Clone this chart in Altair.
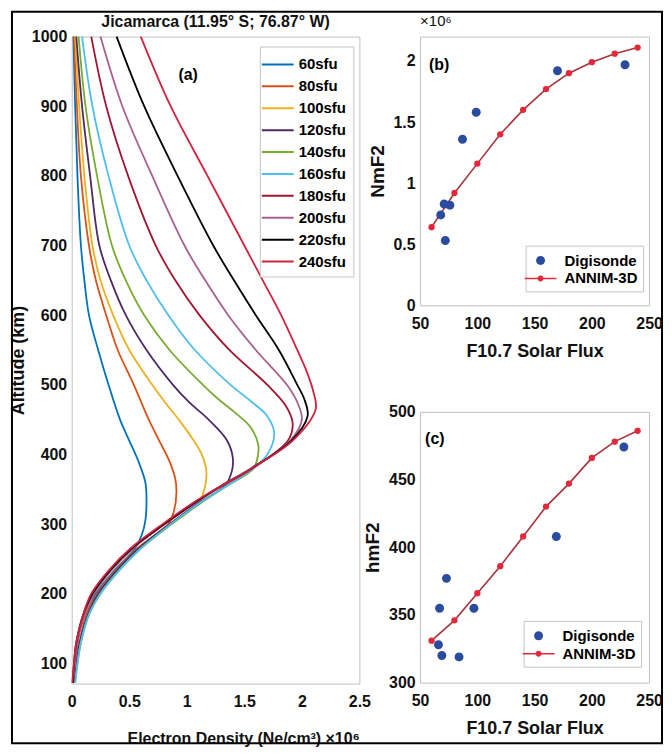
import altair as alt
import pandas as pd

FONT = "Liberation Sans, Arial, sans-serif"

# ---------------- panel (a): electron density profiles ----------------
flux_labels = ["60sfu", "80sfu", "100sfu", "120sfu", "140sfu",
               "160sfu", "180sfu", "200sfu", "220sfu", "240sfu"]
flux_colors = ["#0072BD", "#D95319", "#EDB120", "#4E2A63", "#77AC30",
               "#4DBEEE", "#A2142F", "#A8618F", "#000000", "#D0213F"]

alt_60 = [72, 100, 130, 170, 200, 235, 265, 285, 305, 335, 360, 390, 420, 450, 500, 550, 600, 650, 700, 800, 900, 1000]
ne_60 = [0.02, 0.04, 0.07, 0.13, 0.21, 0.38, 0.55, 0.61, 0.64, 0.65, 0.64, 0.58, 0.50, 0.42, 0.32, 0.23, 0.15, 0.11, 0.08, 0.05, 0.03, 0.015]

alt_80 = [72, 100, 130, 170, 200, 235, 265, 300, 320, 345, 365, 390, 420, 450, 500, 550, 600, 650, 700, 800, 900, 1000]
ne_80 = [0.02, 0.04, 0.07, 0.13, 0.22, 0.39, 0.57, 0.84, 0.89, 0.91, 0.90, 0.85, 0.76, 0.67, 0.54, 0.40, 0.30, 0.21, 0.15, 0.08, 0.045, 0.02]

alt_100 = [72, 100, 130, 170, 200, 235, 265, 300, 330, 355, 376, 400, 420, 450, 475, 500, 550, 600, 650, 700, 800, 900, 1000]
ne_100 = [0.02, 0.04, 0.07, 0.14, 0.23, 0.40, 0.58, 0.85, 1.10, 1.16, 1.17, 1.13, 1.06, 0.93, 0.81, 0.70, 0.50, 0.36, 0.25, 0.18, 0.11, 0.065, 0.03]

alt_120 = [72, 100, 130, 170, 200, 235, 265, 300, 330, 355, 375, 395, 420, 450, 475, 500, 550, 600, 650, 700, 800, 900, 1000]
ne_120 = [0.02, 0.04, 0.07, 0.14, 0.23, 0.40, 0.58, 0.85, 1.10, 1.33, 1.39, 1.40, 1.35, 1.19, 1.02, 0.88, 0.65, 0.47, 0.34, 0.24, 0.16, 0.09, 0.04]

alt_140 = [72, 100, 130, 170, 200, 235, 265, 300, 330, 355, 380, 400, 415, 440, 460, 480, 500, 550, 600, 650, 700, 800, 900, 1000]
ne_140 = [0.03, 0.05, 0.08, 0.15, 0.25, 0.42, 0.60, 0.87, 1.12, 1.35, 1.58, 1.62, 1.62, 1.55, 1.42, 1.27, 1.14, 0.85, 0.63, 0.47, 0.35, 0.22, 0.12, 0.06]

alt_160 = [72, 100, 130, 170, 200, 235, 265, 300, 330, 355, 380, 400, 430, 455, 476, 500, 550, 600, 650, 700, 800, 900, 1000]
ne_160 = [0.03, 0.05, 0.08, 0.15, 0.25, 0.42, 0.60, 0.86, 1.11, 1.35, 1.58, 1.70, 1.76, 1.70, 1.56, 1.38, 1.07, 0.84, 0.65, 0.50, 0.32, 0.18, 0.09]

alt_180 = [72, 100, 130, 170, 200, 235, 265, 300, 330, 355, 380, 420, 445, 470, 500, 550, 600, 650, 700, 800, 900, 1000]
ne_180 = [0.01, 0.03, 0.05, 0.11, 0.19, 0.35, 0.53, 0.81, 1.07, 1.31, 1.57, 1.88, 1.92, 1.86, 1.70, 1.37, 1.11, 0.90, 0.73, 0.49, 0.30, 0.17]

alt_200 = [72, 100, 130, 170, 200, 235, 265, 300, 330, 355, 380, 420, 450, 475, 500, 550, 600, 650, 700, 800, 900, 1000]
ne_200 = [0.01, 0.03, 0.05, 0.11, 0.19, 0.35, 0.53, 0.80, 1.06, 1.31, 1.57, 1.90, 2.00, 1.96, 1.87, 1.60, 1.36, 1.16, 0.98, 0.70, 0.44, 0.25]

alt_220 = [72, 100, 130, 170, 200, 235, 265, 300, 330, 355, 380, 420, 455, 480, 500, 550, 600, 650, 700, 800, 900, 1000]
ne_220 = [0.01, 0.02, 0.04, 0.10, 0.18, 0.34, 0.52, 0.80, 1.06, 1.30, 1.56, 1.91, 2.05, 2.02, 1.96, 1.80, 1.60, 1.41, 1.23, 0.92, 0.63, 0.39]

alt_240 = [72, 100, 130, 170, 200, 235, 265, 300, 330, 355, 380, 420, 465, 490, 520, 550, 600, 650, 700, 800, 900, 1000]
ne_240 = [0.005, 0.02, 0.04, 0.10, 0.17, 0.33, 0.51, 0.79, 1.05, 1.30, 1.56, 1.92, 2.12, 2.10, 2.04, 1.96, 1.82, 1.66, 1.50, 1.18, 0.86, 0.60]

altitude_ticks = [100, 200, 300, 400, 500, 600, 700, 800, 900, 1000]
density_ticks = [0, 0.5, 1, 1.5, 2, 2.5]
title_a = "Jicamarca (11.95° S; 76.87° W)"

# ---------------- panels (b) and (c) ----------------
series_names = ["Digisonde", "ANNIM-3D"]
annim_flux = [60, 80, 100, 120, 140, 160, 180, 200, 220, 240]
annim_nmf2 = [0.64, 0.92, 1.16, 1.40, 1.60, 1.77, 1.90, 1.99, 2.06, 2.11]
annim_hmf2 = [331, 346, 366, 386, 408, 430, 447, 466, 478, 486]

dig_b_flux = [68, 71, 76, 72, 87, 99, 170, 229]
dig_b_nmf2 = [0.74, 0.83, 0.82, 0.53, 1.36, 1.58, 1.92, 1.97]
dig_c_flux = [73, 67, 97, 66, 69, 84, 169, 228]
dig_c_hmf2 = [377, 355, 355, 328, 320, 319, 408, 474]

flux_ticks = [50, 100, 150, 200, 250]
nmf2_ticks = [0, 0.5, 1, 1.5, 2]
hmf2_ticks = [300, 350, 400, 450, 500]

BLUE = "#2B4C9E"
RED_PT = "#E3283A"
RED_LINE = "#A8323A"

# ---------------- build panel (a) ----------------
profiles = [
    (alt_60, ne_60), (alt_80, ne_80), (alt_100, ne_100), (alt_120, ne_120),
    (alt_140, ne_140), (alt_160, ne_160), (alt_180, ne_180), (alt_200, ne_200),
    (alt_220, ne_220), (alt_240, ne_240),
]
rows = []
for lab, (alts, nes) in zip(flux_labels, profiles):
    for a_, n_ in zip(alts, nes):
        rows.append({"flux": lab, "alt": a_, "ne": n_})
df_a = pd.DataFrame(rows)

lines_a = alt.Chart(df_a).mark_line(strokeWidth=1.8, interpolate="catmull-rom").encode(
    x=alt.X("ne:Q", scale=alt.Scale(domain=[0, 2.5], nice=False),
            axis=alt.Axis(values=density_ticks, format="~g",
                          title="Electron Density (Ne/cm³) ×10⁶",
                          titleAnchor="end", titleFontSize=16, titlePadding=21,
                          labelPadding=10)),
    y=alt.Y("alt:Q", scale=alt.Scale(domain=[71, 1000], nice=False, zero=False),
            axis=alt.Axis(values=altitude_ticks, format="d", title="Altitude (km)",
                          titleFontSize=18, titlePadding=4, labelPadding=5)),
    color=alt.Color("flux:N", scale=alt.Scale(domain=flux_labels, range=flux_colors),
                    legend=alt.Legend(orient="none", legendX=189, legendY=10, title=None,
                                      symbolType="M-1.6,0H1.6", symbolSize=400,
                                      symbolStrokeWidth=2, labelFontSize=15,
                                      labelFontWeight="bold", rowPadding=3, padding=7,
                                      labelOffset=10, fillColor="white",
                                      strokeColor="#c4c4c4")),
    order=alt.Order("alt:Q"),
)

label_a = alt.Chart(pd.DataFrame({"t": ["(a)"]})).mark_text(
    fontSize=16, fontWeight="bold", align="center", baseline="middle", color="black"
).encode(x=alt.value(117), y=alt.value(39), text="t:N")

title_mark = alt.Chart(pd.DataFrame({"t": [title_a]})).mark_text(
    fontSize=16, fontWeight="bold", align="center", baseline="middle", color="#111111"
).encode(x=alt.value(144.5), y=alt.value(-15), text="t:N")

border = alt.Chart(pd.DataFrame({"t": [0]})).mark_rect(
    fill=None, fillOpacity=0, stroke="black", strokeWidth=2
).encode(x=alt.value(-60), x2=alt.value(593), y=alt.value(-25), y2=alt.value(710))

panel_a = alt.layer(border, lines_a, label_a, title_mark).properties(width=289, height=650)


def side_panel(dig_flux, dig_vals, ann_vals, ydomain, yticks, yfmt, ytitle, tag, legy, legx,
               height, width, title=None):
    dig = pd.DataFrame({"flux": dig_flux, "val": dig_vals,
                        "series": ["Digisonde"] * len(dig_flux)})
    ann = pd.DataFrame({"flux": annim_flux, "val": ann_vals,
                        "series": ["ANNIM-3D"] * len(annim_flux)})
    xenc = alt.X("flux:Q", scale=alt.Scale(domain=[50, 250], nice=False),
                 axis=alt.Axis(values=flux_ticks, title="F10.7 Solar Flux",
                               titleFontSize=18, labelPadding=10, titlePadding=11))
    yenc = alt.Y("val:Q", scale=alt.Scale(domain=ydomain, nice=False, zero=False),
                 axis=alt.Axis(values=yticks, format=yfmt, title=ytitle,
                               titleFontSize=19, titlePadding=6, labelPadding=5))
    circle_path = "M0.45,0A0.45,0.45 0 1,1 -0.45,0A0.45,0.45 0 1,1 0.45,0Z"
    annim_path = ("M-1.6,-0.07H1.6V0.07H-1.6Z "
                  "M0.3,0A0.3,0.3 0 1,1 -0.3,0A0.3,0.3 0 1,1 0.3,0Z")
    leg = alt.Legend(orient="none", legendX=legx, legendY=legy, title=None,
                     symbolSize=400, labelFontSize=15, labelFontWeight="bold",
                     rowPadding=0, padding=5, labelOffset=14, fillColor="white",
                     strokeColor="#c4c4c4", symbolStrokeWidth=0)
    line = alt.Chart(ann).mark_line(color=RED_LINE, strokeWidth=1.6).encode(x=xenc, y=yenc)
    pts = alt.Chart(ann).mark_point(filled=True, shape="circle", size=40, color=RED_PT,
                                    opacity=1).encode(x=xenc, y=yenc)
    dots = alt.Chart(dig).mark_point(filled=True, size=400, opacity=1, strokeWidth=0).encode(
        x=xenc, y=yenc,
        color=alt.Color("series:N", scale=alt.Scale(domain=series_names, range=[BLUE, RED_PT]),
                        legend=leg),
        shape=alt.Shape("series:N", scale=alt.Scale(domain=series_names,
                                                     range=[circle_path, annim_path]),
                        legend=leg),
    )
    tagc = alt.Chart(pd.DataFrame({"t": [tag[0]]})).mark_text(
        fontSize=16, fontWeight="bold", align="left", baseline="middle", color="black"
    ).encode(x=alt.value(tag[1]), y=alt.value(tag[2]), text="t:N")
    props = dict(width=width, height=height)
    if title is not None:
        props["title"] = title
    return alt.layer(line, pts, dots, tagc).properties(**props)


panel_b = side_panel(dig_b_flux, dig_b_nmf2, annim_nmf2, [0, 2.2], nmf2_ticks, "~g", "NmF2",
                     ("(b)", 9, 29), 210, 106, 270, 230,
                     title=alt.Title("×10⁶", fontSize=15, fontWeight="normal",
                                     anchor="start", frame="group", offset=8))
panel_c = side_panel(dig_c_flux, dig_c_hmf2, annim_hmf2, [300, 500], hmf2_ticks, "d", "hmF2",
                     ("(c)", 5, 27), 210, 104, 272, 230)

right = alt.vconcat(panel_b, panel_c, spacing=107, bounds="flush").resolve_scale(
    color="independent", shape="independent"
).resolve_legend(color="independent", shape="independent")

chart = alt.hconcat(panel_a, right, spacing=61, bounds="flush").resolve_scale(
    color="independent", shape="independent"
).resolve_legend(color="independent", shape="independent").properties(
    padding=0
).configure(font=FONT).configure_view(
    stroke="#c0c0c0", strokeWidth=1
).configure_axis(
    labelFont=FONT, titleFont=FONT, labelFontSize=16, labelFontWeight="bold",
    titleFontWeight="bold", labelColor="#111111", titleColor="#111111",
    grid=False, domain=False, ticks=False, tickSize=0, labelFlush=False
).configure_legend(
    labelFont=FONT
).configure_title(font=FONT, color="#111111")

chart.save("out.html", embed_options={"renderer": "svg", "actions": False})
